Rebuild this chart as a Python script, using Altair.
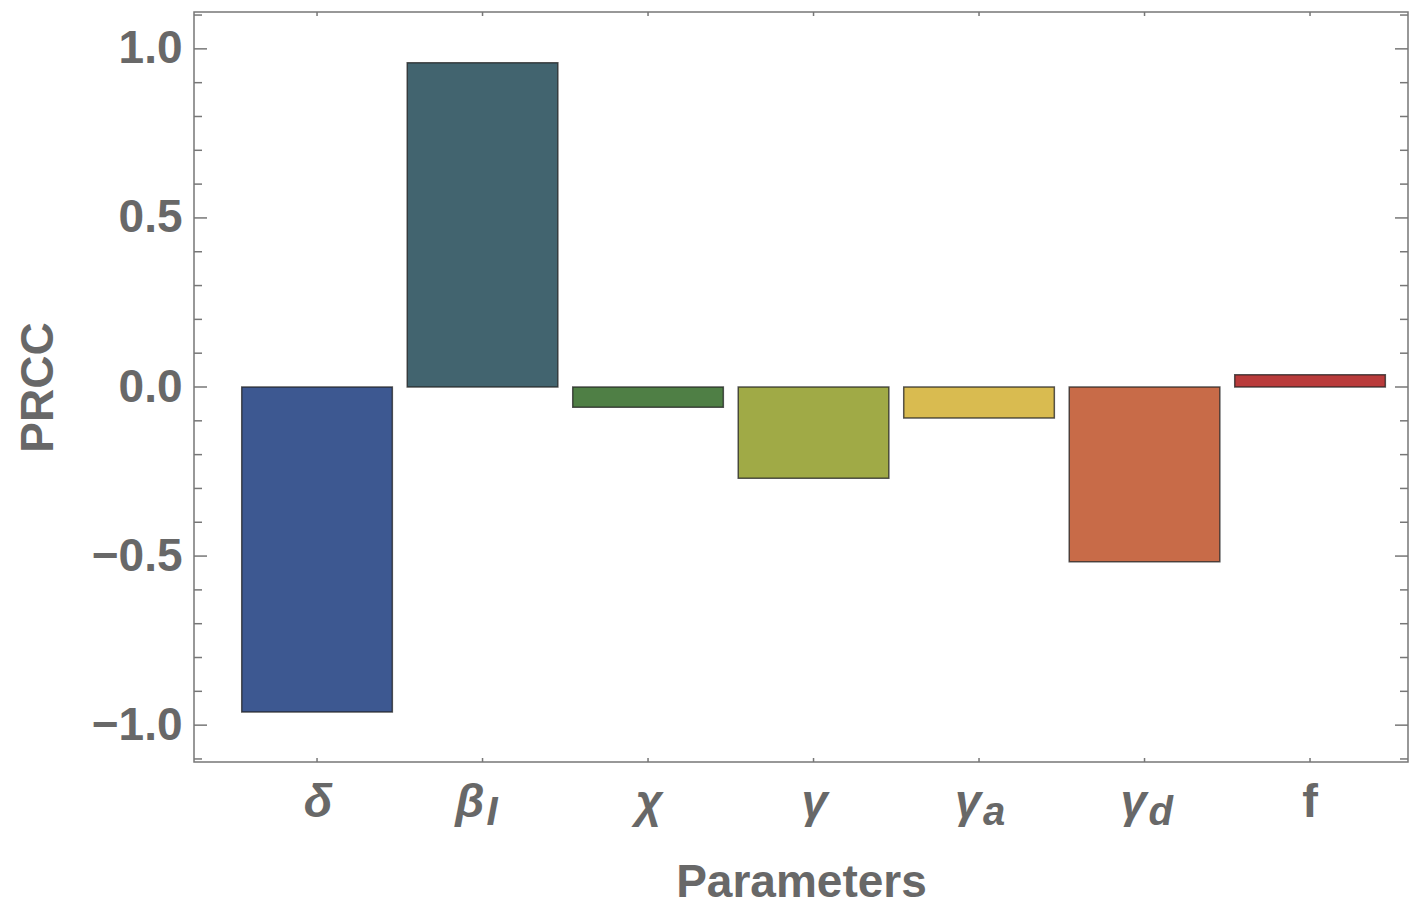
import altair as alt
import pandas as pd

# ---- data ----
params = ["δ", "βI", "χ", "γ", "γa", "γd", "f"]
prcc = [-0.961, 0.959, -0.060, -0.270, -0.092, -0.517, 0.036]
colors = ["#3D5891", "#42646F", "#4F7F45", "#A0AA46", "#D9BB50", "#C86B48", "#B93B3B"]
major_ticks = [-1.0, -0.5, 0.0, 0.5, 1.0]
minor_ticks = [-1.1, -0.9, -0.8, -0.7, -0.6, -0.4, -0.3, -0.2, -0.1,
               0.1, 0.2, 0.3, 0.4, 0.6, 0.7, 0.8, 0.9, 1.1]

W, H = 1214, 750
GRAY = "#686868"
FRAME = "#777777"
FONT = "Liberation Sans"

df = pd.DataFrame({"param": params, "prcc": prcc})
df_major = pd.DataFrame({"prcc": major_ticks})
df_minor = pd.DataFrame({"prcc": minor_ticks})

xscale = alt.Scale(paddingInner=0.09, paddingOuter=0.2127, align=0.678, round=False)
yscale = alt.Scale(domain=[-1.109, 1.109], nice=False, zero=False)

xaxis = alt.Axis(labels=False, ticks=False, domain=False, grid=False,
                 title="Parameters", titleY=134, titleBaseline="alphabetic")
yaxis = alt.Axis(values=major_ticks, format=".1f", ticks=False, domain=False,
                 grid=False, labelPadding=12, title="PRCC",
                 titleX=-142, titleY=H / 2, titleBaseline="alphabetic")

x_enc = alt.X("param:N", sort=params, scale=xscale, axis=xaxis, title="Parameters")
y_enc = alt.Y("prcc:Q", scale=yscale, axis=yaxis, title="PRCC")

bars = alt.Chart(df).mark_bar(stroke="#222222", strokeWidth=1.5, strokeOpacity=0.75).encode(
    x=x_enc,
    y=y_enc,
    y2=alt.datum(0),
    color=alt.Color("param:N", scale=alt.Scale(domain=params, range=colors), legend=None),
)

def yticks(data, length, right=False):
    if right:
        xa, xb = alt.value(W), alt.value(W - length)
    else:
        xa, xb = alt.value(0), alt.value(length)
    return alt.Chart(data).mark_rule(color=FRAME, strokeWidth=1.5).encode(
        y=y_enc, x=xa, x2=xb)

tick_layers = [
    yticks(df_major, 13), yticks(df_minor, 8),
    yticks(df_major, 13, right=True), yticks(df_minor, 8, right=True),
]

xt_bottom = alt.Chart(df).mark_rule(color=FRAME, strokeWidth=1.5).encode(
    x=x_enc, y=alt.value(H), y2=alt.value(H - 4))
xt_top = alt.Chart(df).mark_rule(color=FRAME, strokeWidth=1.5).encode(
    x=x_enc, y=alt.value(0), y2=alt.value(4))

lab = alt.Chart(df).transform_calculate(
    main="substring(datum.param, 0, 1)", sub="substring(datum.param, 1)")

plain_greek = lab.transform_filter("datum.sub == '' && datum.param != 'f'").mark_text(
    font=FONT, fontSize=47, fontWeight="bold", fontStyle="italic", color=GRAY,
    align="center", baseline="alphabetic", dx=1).encode(
    x=x_enc, y=alt.value(H + 55), text="main:N")
plain_f = lab.transform_filter("datum.param == 'f'").mark_text(
    font=FONT, fontSize=47, fontWeight="bold", color=GRAY,
    align="center", baseline="alphabetic").encode(
    x=x_enc, y=alt.value(H + 55), text="main:N")
sub_main = lab.transform_filter("datum.sub != ''").mark_text(
    font=FONT, fontSize=47, fontWeight="bold", fontStyle="italic", color=GRAY,
    align="right", baseline="alphabetic", dx=2).encode(
    x=x_enc, y=alt.value(H + 55), text="main:N")
sub_sub = lab.transform_filter("datum.sub != ''").mark_text(
    font=FONT, fontSize=40, fontWeight="bold", fontStyle="italic", color=GRAY,
    align="left", baseline="alphabetic", dx=4).encode(
    x=x_enc, y=alt.value(H + 63), text="sub:N")

chart = alt.layer(
    bars, *tick_layers, xt_bottom, xt_top, plain_greek, plain_f, sub_main, sub_sub
).properties(
    width=W, height=H, autosize="none",
    padding={"left": 194, "top": 12, "right": 1, "bottom": 140},
).configure_view(
    stroke=FRAME, strokeWidth=1.5
).configure_axis(
    labelFont=FONT, labelFontSize=46, labelFontWeight="bold", labelColor=GRAY,
    titleFont=FONT, titleFontSize=46, titleFontWeight="bold", titleColor=GRAY,
)

chart.save("out.html", embed_options={"renderer": "svg", "actions": False})
